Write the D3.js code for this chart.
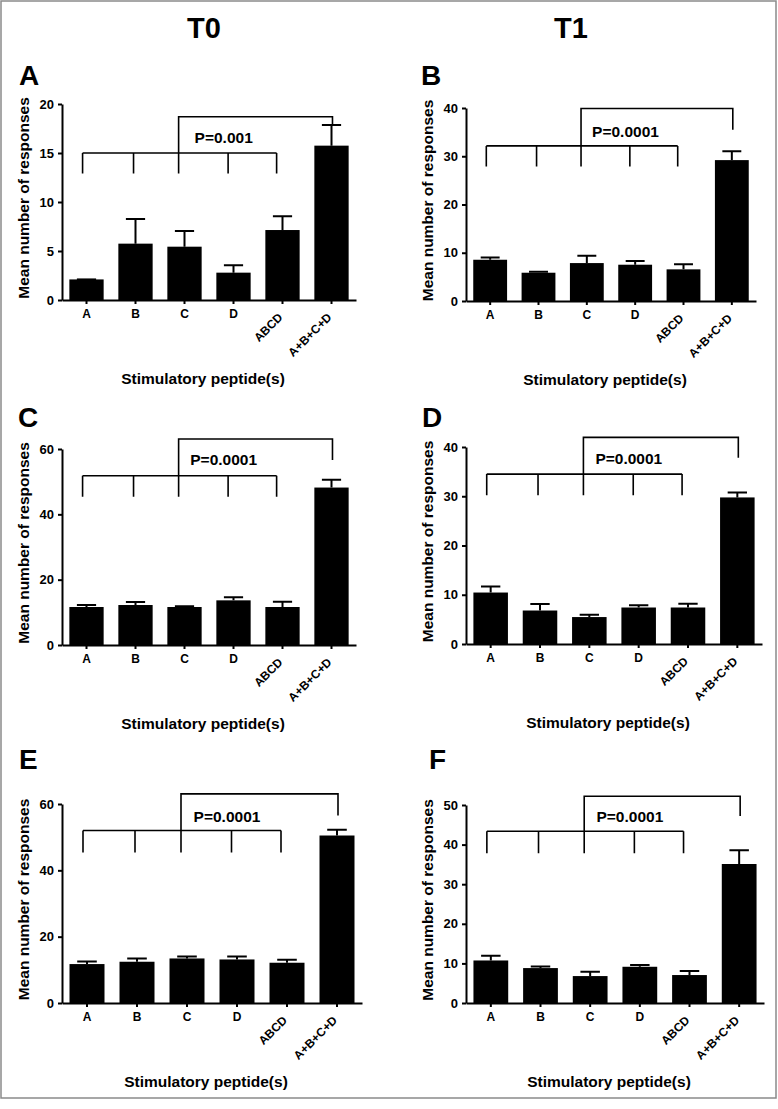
<!DOCTYPE html>
<html><head><meta charset="utf-8">
<script src="https://cdn.jsdelivr.net/npm/d3@7"></script>
<style>
body{margin:0;background:#fff}
svg{display:block}
text{font-family:"Liberation Sans",Arial,Helvetica,sans-serif;font-weight:bold;fill:#000}
</style>
</head><body>
<svg id="c" width="778" height="1109"></svg>
<script>
// ---------- data ----------
const categories = ["A", "B", "C", "D", "ABCD", "A+B+C+D"];
const columnTitles = ["T0", "T1"];
const panelLetters = ["A", "B", "C", "D", "E", "F"];
const xTitle = "Stimulatory peptide(s)";
const yTitle = "Mean number of responses";

const meansA = [2.1, 5.75, 5.44, 2.79, 7.14, 15.75];
const semA   = [0, 2.52, 1.6, 0.75, 1.4, 2.11];
const meansB = [8.55, 5.86, 7.86, 7.52, 6.56, 29.2];
const semB   = [0.49, 0.21, 1.52, 0.76, 1.04, 1.85];
const meansC = [11.63, 12.24, 11.63, 13.67, 11.63, 48.2];
const semC   = [0.61, 0.92, 0.21, 0.93, 1.64, 2.4];
const meansD = [10.45, 6.8, 5.47, 7.41, 7.41, 29.76];
const semD   = [1.21, 1.3, 0.46, 0.48, 0.75, 1.01];
const meansE = [11.74, 12.44, 13.43, 13.13, 12.14, 50.5];
const semE   = [0.76, 0.99, 0.61, 0.91, 0.9, 1.7];
const meansF = [10.74, 8.82, 6.8, 9.15, 7.06, 35.1];
const semF   = [1.19, 0.42, 1.1, 0.43, 1.01, 3.47];

const yTicksA = [0, 5, 10, 15, 20];
const yTicksB = [0, 10, 20, 30, 40];
const yTicksC = [0, 20, 40, 60];
const yTicksD = [0, 10, 20, 30, 40];
const yTicksE = [0, 20, 40, 60];
const yTicksF = [0, 10, 20, 30, 40, 50];

const pLabels = ["P=0.001", "P=0.0001", "P=0.0001", "P=0.0001", "P=0.0001", "P=0.0001"];
const pLabelValue = [16.05, 34.0, 55.1, 36.6, 54.7, 45.8];
const pLabelIndex = 2.8;
// comparison bracket (values in data units, positions in category index units)
const bracketLegIndex = [-0.08, 0.96, 1.88, 2.89, 3.88];
const bracketTopIndex = [1.88, 5.02];
const bracketLower   = [15.0, 32.15, 51.8, 34.5, 52.0, 43.36];
const bracketLegEnd  = [12.9, 27.9, 45.4, 30.2, 45.4, 37.8];
const bracketUpper   = [18.7, 39.9, 63.05, 41.96, 63.05, 52.2];
const bracketRightEnd= [17.9, 35.5, 56.6, 37.8, 56.5, 47.2];

const means = [meansA, meansB, meansC, meansD, meansE, meansF];
const sems = [semA, semB, semC, semD, semE, semF];
const yTicks = [yTicksA, yTicksB, yTicksC, yTicksD, yTicksE, yTicksF];

// ---------- layout ----------
const layout = [
  {x0: 62,  x1: 356, yTop: 104, yBot: 300, lx: 19,  ly: 85},
  {x0: 466, x1: 756, yTop: 108, yBot: 301, lx: 421, ly: 85},
  {x0: 62,  x1: 356, yTop: 449, yBot: 645, lx: 18,  ly: 427},
  {x0: 466, x1: 762, yTop: 447, yBot: 644, lx: 422, ly: 427},
  {x0: 62,  x1: 362, yTop: 804, yBot: 1003, lx: 19, ly: 769},
  {x0: 466, x1: 764, yTop: 805, yBot: 1003, lx: 429, ly: 769}
];

const svg = d3.select("#c");
svg.append("rect").attr("x", 1).attr("y", 1).attr("width", 775).attr("height", 1097)
  .attr("fill", "#fff").attr("stroke", "#8a8a8a").attr("stroke-width", 1.5);

svg.append("text").attr("x", 204).attr("y", 38).attr("text-anchor", "middle")
  .style("font-size", "29px").text(columnTitles[0]);
svg.append("text").attr("x", 571).attr("y", 38).attr("text-anchor", "middle")
  .style("font-size", "29px").text(columnTitles[1]);

layout.forEach((L, i) => {
  const g = svg.append("g");
  const x = d3.scaleBand().domain(categories).range([L.x0, L.x1])
    .paddingInner(0.3).paddingOuter(0.15);
  const ticks = yTicks[i];
  const y = d3.scaleLinear().domain([0, ticks[ticks.length - 1]]).range([L.yBot, L.yTop]);
  const bw = x.bandwidth();
  const idx = d3.scaleLinear().domain([0, categories.length - 1])
    .range([x(categories[0]) + bw / 2, x(categories[categories.length - 1]) + bw / 2]);

  // panel letter
  g.append("text").attr("x", L.lx).attr("y", L.ly).style("font-size", "28px").text(panelLetters[i]);

  const rows = categories.map((c, k) => ({c, m: means[i][k], s: sems[i][k]}));

  // bars
  g.selectAll("rect.bar").data(rows).join("rect").attr("class", "bar")
    .attr("x", d => x(d.c)).attr("width", bw)
    .attr("y", d => y(d.m)).attr("height", d => y(0) - y(d.m))
    .attr("fill", "#000");

  // error bars (upper only)
  const cw = bw * 0.28;
  g.selectAll("path.err").data(rows).join("path").attr("class", "err")
    .attr("d", d => {
      const cx = x(d.c) + bw / 2;
      return `M${cx},${y(d.m)}V${y(d.m + d.s)}M${cx - cw},${y(d.m + d.s)}H${cx + cw}`;
    })
    .attr("fill", "none").attr("stroke", "#000").attr("stroke-width", 2);

  // axes
  const yAxis = d3.axisLeft(y).tickValues(ticks).tickSize(4).tickSizeOuter(0).tickPadding(4);
  const ya = g.append("g").attr("transform", `translate(${L.x0},0)`).call(yAxis);
  ya.select(".domain").attr("stroke-width", 2);
  ya.selectAll(".tick line").attr("stroke-width", 2);
  ya.selectAll(".tick text").style("font-size", "13px").style("font-family", null);
  ya.attr("font-family", null).attr("font-size", null);

  const xAxis = d3.axisBottom(x).tickSize(4).tickSizeOuter(0).tickPadding(5);
  const xa = g.append("g").attr("transform", `translate(0,${L.yBot})`).call(xAxis);
  xa.attr("font-family", null).attr("font-size", null);
  xa.select(".domain").attr("stroke-width", 2);
  xa.selectAll(".tick line").attr("stroke-width", 2);
  xa.selectAll(".tick text").style("font-size", "12px")
    .each(function(d, k) {
      if (k >= 4) {
        d3.select(this).attr("x", 0).attr("y", 0).attr("dy", 0)
          .attr("text-anchor", "end")
          .attr("transform", "translate(1,18) rotate(-45)");
      }
    });

  // brackets
  const lo = bracketLower[i], le = bracketLegEnd[i], up = bracketUpper[i], re = bracketRightEnd[i];
  let d = `M${idx(bracketLegIndex[0])},${y(lo)}H${idx(bracketLegIndex[bracketLegIndex.length - 1])}`;
  bracketLegIndex.forEach(b => { d += `M${idx(b)},${y(lo)}V${y(le)}`; });
  d += `M${idx(bracketTopIndex[0])},${y(lo)}V${y(up)}H${idx(bracketTopIndex[1])}V${y(re)}`;
  g.append("path").attr("d", d).attr("fill", "none").attr("stroke", "#000").attr("stroke-width", 1.6);

  g.append("text").attr("x", idx(pLabelIndex)).attr("y", y(pLabelValue[i]))
    .attr("text-anchor", "middle").style("font-size", "15.5px").text(pLabels[i]);

  // axis titles
  g.append("text")
    .attr("transform", `translate(${L.x0 - 33},${(L.yTop + L.yBot) / 2 - 4}) rotate(-90)`)
    .attr("text-anchor", "middle").style("font-size", "15.5px").text(yTitle);
  g.append("text").attr("x", (L.x0 + L.x1) / 2 - 6).attr("y", L.yBot + 84)
    .attr("text-anchor", "middle").style("font-size", "15.5px").text(xTitle);
});
</script>
</body></html>
